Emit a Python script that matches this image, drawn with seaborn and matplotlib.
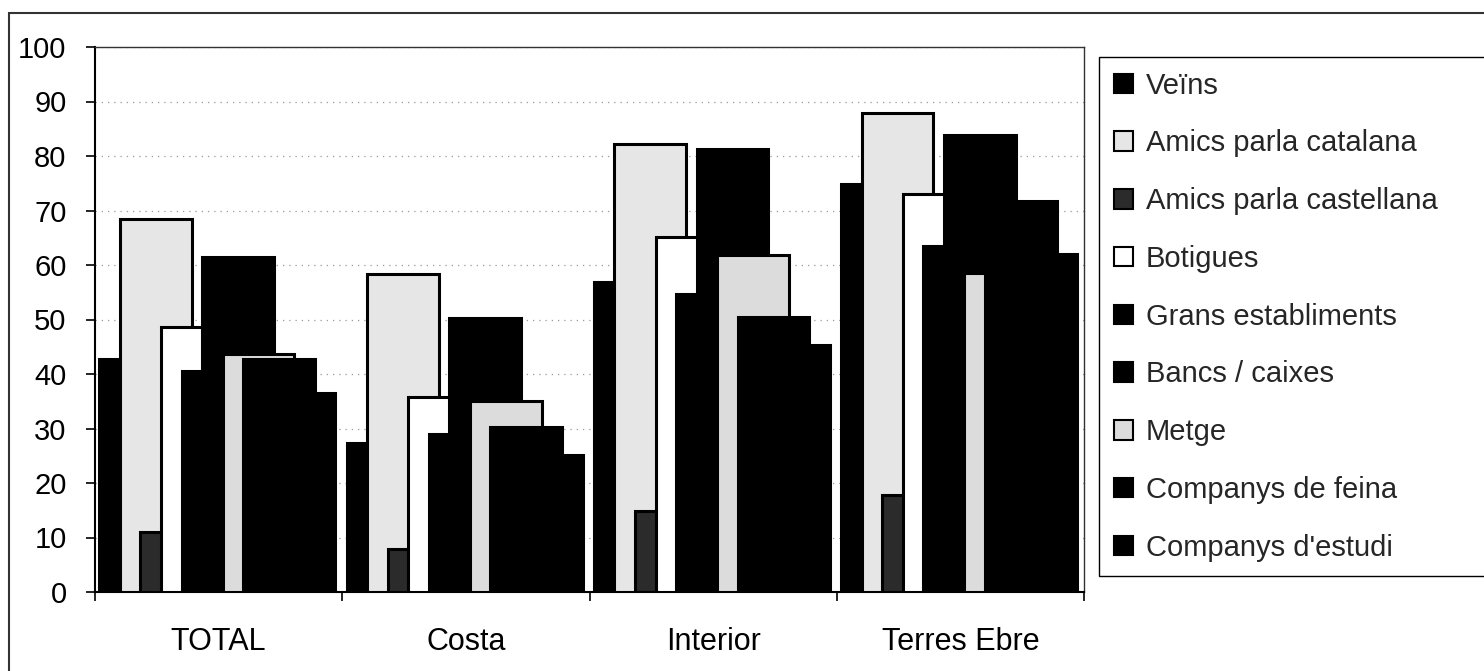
import numpy as np
import pandas as pd
import matplotlib
matplotlib.use("Agg")
import matplotlib.pyplot as plt
from matplotlib.patches import Patch, Rectangle
import seaborn as sns

# ---------------- data ----------------
categories = ["TOTAL", "Costa", "Interior", "Terres Ebre"]
series_names = ["Veïns", "Amics parla catalana", "Amics parla castellana", "Botigues",
                "Grans establiments", "Bancs / caixes", "Metge",
                "Companys de feina", "Companys d'estudi"]
veins = [42.8, 27.3, 56.8, 74.8]
amics_catalana = [68.5, 58.3, 82.2, 87.9]
amics_castellana = [11.1, 7.9, 14.9, 17.8]
botigues = [48.7, 35.7, 65.1, 73.0]
grans_establiments = [40.6, 28.9, 54.6, 63.4]
bancs_caixes = [61.4, 50.2, 81.2, 83.8]
metge = [43.6, 35.1, 61.8, 58.5]
companys_feina = [42.8, 30.2, 50.4, 71.7]
companys_estudi = [36.6, 25.2, 45.4, 62.1]
y_ticks = list(range(0, 101, 10))

all_series = [veins, amics_catalana, amics_castellana, botigues, grans_establiments,
              bancs_caixes, metge, companys_feina, companys_estudi]
colors = ["#000000", "#e6e6e6", "#2b2b2b", "#ffffff", "#000000",
          "#000000", "#dcdcdc", "#000000", "#000000"]

# ---------------- style ----------------
sns.set_theme(style="white")
plt.rcParams['font.family'] = ['Liberation Sans', 'DejaVu Sans']

W, H = 1484, 671
fig = plt.figure(figsize=(W / 100, H / 100), dpi=100)
ax = fig.add_axes([95 / W, 1 - 592 / H, (1084 - 95) / W, (592 - 47) / H])

bar_w = 0.29      # bar width in category units
step = 0.083      # offset between overlapping series
first = -0.5 + 0.018 + bar_w / 2
base = np.arange(len(categories))

for i, (vals, col) in enumerate(zip(all_series, colors)):
    df = pd.DataFrame({"x": base + first + i * step, "y": vals})
    sns.barplot(data=df, x="x", y="y", native_scale=True, width=bar_w,
                color=col, saturation=1, edgecolor="black", linewidth=2.2,
                errorbar=None, ax=ax, zorder=3)

ax.set_xlim(-0.5, len(categories) - 0.5)
ax.set_ylim(0, 100)
ax.set_xlabel("")
ax.set_ylabel("")

ax.set_xticks(base)
ax.set_xticklabels(categories, fontsize=22)
ax.set_xticks(np.arange(len(categories) + 1) - 0.5, minor=True)
ax.tick_params(axis="x", which="major", length=0, pad=25, labelsize=22, colors="black")
ax.tick_params(axis="x", which="minor", length=6.5, width=1.2, direction="out",
               bottom=True, color="black")

ax.set_yticks(y_ticks)
ax.set_yticklabels([str(t) for t in y_ticks])
ax.tick_params(axis="y", length=6.5, width=1.2, direction="out", left=True,
               pad=14, labelsize=21, colors="black")

ax.yaxis.grid(True, color="#999999", linestyle=(0, (1, 4)), linewidth=0.9)
ax.xaxis.grid(False)
ax.set_axisbelow(True)

for side in ["left", "bottom"]:
    ax.spines[side].set_color("black")
    ax.spines[side].set_linewidth(1.5)
for side in ["top", "right"]:
    ax.spines[side].set_color("#333333")
    ax.spines[side].set_linewidth(1.0)

# legend
handles = [Patch(facecolor=c, edgecolor="black", linewidth=1.5, label=n)
           for n, c in zip(series_names, colors)]
leg = fig.legend(handles=handles, loc="upper left",
                 bbox_to_anchor=(1099 / W, 1 - 571 / H, 0.3, (571 - 57) / H),
                 mode="expand", borderaxespad=0, fontsize=21,
                 handlelength=0.65, handleheight=0.65, handletextpad=0.45,
                 labelspacing=1.02, borderpad=0.5, fancybox=False, framealpha=1)
leg.get_frame().set_edgecolor("black")
leg.get_frame().set_linewidth(1.0)

# outer chart frame
fig.add_artist(Rectangle((9 / W, -0.1), 1.2, 1 - 13 / H + 0.1, transform=fig.transFigure,
                         fill=False, edgecolor="#333333", linewidth=1.5))

fig.savefig("out.png", dpi=100)
